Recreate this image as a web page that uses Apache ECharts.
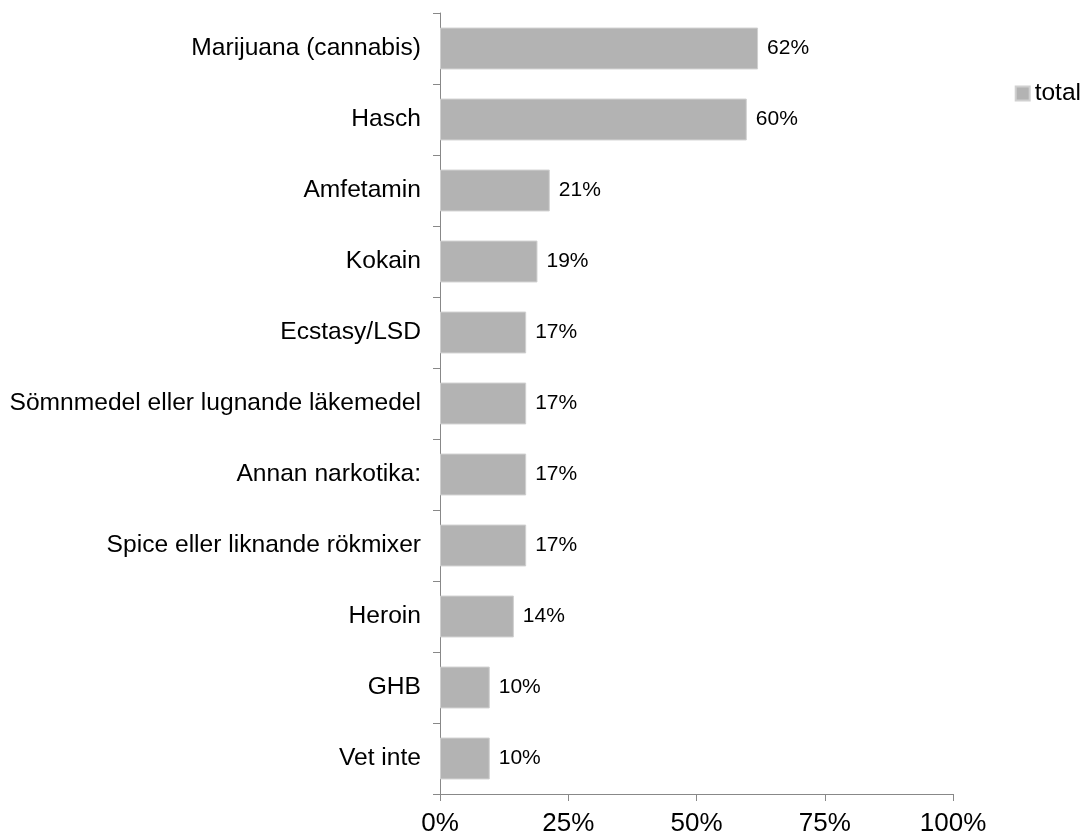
<!DOCTYPE html>
<html><head><meta charset="utf-8">
<script src="https://cdn.jsdelivr.net/npm/echarts@6/dist/echarts.min.js"></script>
<style>html,body{margin:0;padding:0;background:#fff}#c{width:1090px;height:838px}</style>
</head><body><div id="c"></div>
<script>
const categories = ["Marijuana (cannabis)","Hasch","Amfetamin","Kokain","Ecstasy/LSD","Sömnmedel eller lugnande läkemedel","Annan narkotika:","Spice eller liknande rökmixer","Heroin","GHB","Vet inte"];
const totalValues = [62.0, 59.8, 21.4, 19.0, 16.8, 16.8, 16.8, 16.8, 14.4, 9.7, 9.7];
const xTicks = [0, 25, 50, 75, 100];
const seriesName = "total";

const chart = echarts.init(document.getElementById('c'));
const font = "'Liberation Sans', Arial, sans-serif";
chart.setOption({
  animation: false,
  grid: {left: 440, right: 137, top: 13, bottom: 44, containLabel: false},
  legend: {
    data: [seriesName], right: 4, top: 76, itemWidth: 14, itemHeight: 14, itemGap: 4,
    icon: 'rect',
    textStyle: {fontFamily: font, fontSize: 24.5, color: '#000'}
  },
  xAxis: {
    type: 'value', min: 0, max: 100, interval: 25,
    axisLine: {show: true, lineStyle: {color: '#888', width: 1}},
    axisTick: {show: true, length: 7, lineStyle: {color: '#888'}},
    splitLine: {show: false},
    axisLabel: {fontFamily: font, fontSize: 26, color: '#000', margin: 17,
      formatter: v => xTicks.includes(v) ? v + '%' : ''}
  },
  yAxis: {
    type: 'category', inverse: true, data: categories,
    axisLine: {show: true, lineStyle: {color: '#888', width: 1}},
    axisTick: {show: true, length: 7, lineStyle: {color: '#888'}},
    axisLabel: {fontFamily: font, fontSize: 24.6, color: '#000', margin: 19}
  },
  series: [{
    name: seriesName, type: 'bar', data: totalValues,
    barCategoryGap: '41%',
    itemStyle: {color: '#b3b3b3', borderColor: '#d0d0d0', borderWidth: 1},
    label: {show: true, position: 'right', distance: 9, fontFamily: font, fontSize: 21, color: '#000',
      formatter: p => Math.round(p.value) + '%'}
  }]
});
</script></body></html>
